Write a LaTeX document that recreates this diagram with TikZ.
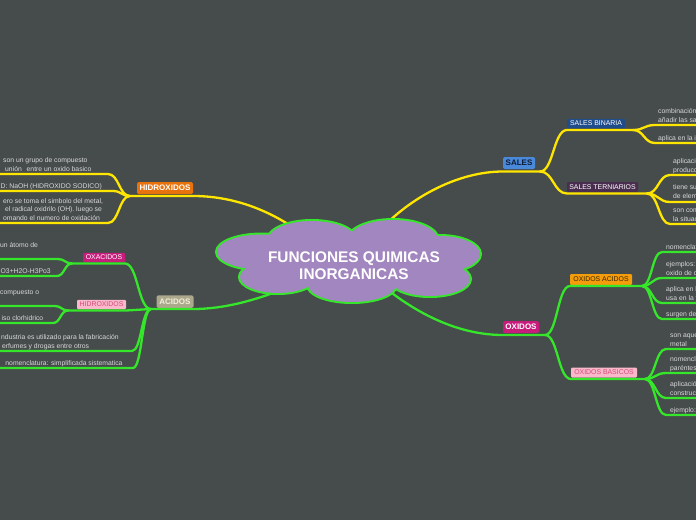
\documentclass[tikz,border=0pt]{standalone}
\usepackage{fontspec}
\setmainfont{Liberation Sans}
\definecolor{bg}{HTML}{464B4C}
\definecolor{ylw}{HTML}{FFE600}
\definecolor{grn}{HTML}{35E62A}
\definecolor{cloudfill}{HTML}{A286BF}
\definecolor{leaftxt}{HTML}{DADADA}
\definecolor{orng}{HTML}{E8720C}
\definecolor{acid}{HTML}{ACA88C}
\definecolor{acidtxt}{HTML}{F2F0DE}
\definecolor{salesbl}{HTML}{4A88DA}
\definecolor{salestxt}{HTML}{0E1C33}
\definecolor{mag}{HTML}{C81C7C}
\definecolor{pinkbg}{HTML}{F9B9CA}
\definecolor{pinktxt}{HTML}{D44A7E}
\definecolor{sbin}{HTML}{1F4C8A}
\definecolor{ster}{HTML}{4A2E50}
\definecolor{oacid}{HTML}{F59C0A}
\definecolor{oacidtxt}{HTML}{3A2600}
\begin{document}
\begin{tikzpicture}[x=1pt,y=-1pt,
  ybr/.style={draw=ylw,line width=2.3pt,line cap=round,line join=round},
  gbr/.style={draw=grn,line width=2.3pt,line cap=round,line join=round},
  mainbox/.style={rounded corners=1.5pt,inner sep=0pt,font=\fontsize{8}{9}\selectfont\bfseries},
  subbox/.style={rounded corners=1.2pt,inner sep=0pt,font=\fontsize{6.9}{8}\selectfont},
  leaf/.style={inner sep=0pt,align=left,text=leaftxt,font=\fontsize{6.8}{8.5}\selectfont},
  lobe/.style={line width=4pt,draw=grn}]

\path[use as bounding box] (0,0) rectangle (696,520);
\fill[bg] (0,0) rectangle (696,520);
\clip (0,0) rectangle (696,520);

% ---------- branch boxes ----------
\node[mainbox,fill=orng,text=white,minimum width=56pt,minimum height=12pt] (hid) at (165,188) {HIDROXIDOS};
\node[mainbox,fill=acid,text=acidtxt,minimum width=37pt,minimum height=12.5pt] (aci) at (175,301.5) {ACIDOS};
\node[mainbox,fill=salesbl,text=salestxt,minimum width=32pt,minimum height=12pt] (sal) at (519,163) {SALES};
\node[mainbox,fill=mag,text=white,minimum width=36pt,minimum height=12pt] (oxi) at (521,327) {OXIDOS};
\node[subbox,fill=mag,text=white,minimum width=42pt,minimum height=9.5pt] (oxa) at (104,257.5) {OXACIDOS};
\node[subbox,fill=pinkbg,text=pinktxt,minimum width=49pt,minimum height=9.5pt] (hia) at (101.5,304.5) {HIDROXIDOS};
\node[subbox,fill=sbin,text=white,minimum width=58pt,minimum height=9.5pt] (sbn) at (596,123.5) {SALES BINARIA};
\node[subbox,fill=ster,text=white,minimum width=71pt,minimum height=10pt] (stn) at (602.5,187) {SALES TERNIARIOS};
\node[subbox,fill=oacid,text=oacidtxt,minimum width=62pt,minimum height=11pt] (oac) at (601,279.5) {OXIDOS ACIDOS};
\node[subbox,fill=pinkbg,text=pinktxt,minimum width=66pt,minimum height=10pt] (oba) at (604,372.5) {OXIDOS BASICOS};

% ---------- left leaves (as far as the picture prints them) ----------
\node[leaf,anchor=south west] (h1) at (3,174) {\strut son un grupo de compuesto\\\strut\hspace{2pt}unión\hspace{3pt} entre un oxido basico};
\node[leaf,anchor=south west] (h2) at (0.5,191) {\strut D: NaOH (HIDROXIDO SODICO)};
\node[leaf,anchor=south west] (h3) at (3,223) {\strut ero se toma el simbolo del metal,\\\strut\hspace{2pt}el radical oxidrilo (OH). luego se\\\strut omando el numero de oxidación};
\node[leaf,anchor=south west] (o1) at (0,250.5) {\strut un átomo de};
\node[leaf,anchor=south west] (o2) at (0.5,276) {\strut O3+H2O-H3Po3};
\node[leaf,anchor=south west] (a1) at (0,297.5) {\strut compuesto o};
\node[leaf,anchor=south west] (a2) at (1.5,323) {\strut iso clorhidrico};
\node[leaf,anchor=south west] (a3) at (1,351) {\strut ndustria es utilizado para la fabricación\\\strut\hspace{1pt}erfumes y drogas entre otros};
\node[leaf,anchor=south east] (a4) at (122.7,368) {\strut nomenclatura: simplificada sistematica};

% ---------- right leaves ----------
\node[leaf,anchor=south west] (b1) at (658,125) {\strut combinación de un metal y un no metal\\\strut añadir las sales binarias};
\node[leaf,anchor=south west] (b2) at (658,143) {\strut aplica en la industria química};
\node[leaf,anchor=south west] (t1) at (673,175) {\strut aplicaciones en la\\\strut producción de fertilizantes};
\node[leaf,anchor=south west] (t2) at (673,201) {\strut tiene sustancias formadas\\\strut de elementos diferentes};
\node[leaf,anchor=south west] (t3) at (673,224) {\strut son compuestos ternarios\\\strut la situación del metal};
\node[leaf,anchor=south west] (k1) at (666,252) {\strut nomenclatura tradicional};
\node[leaf,anchor=south west] (k2) at (666,278) {\strut ejemplos: anhidrido\\\strut oxido de carbono};
\node[leaf,anchor=south west] (k3) at (666,303) {\strut aplica en la industria,\\\strut usa en la fabricación};
\node[leaf,anchor=south west] (k4) at (666,319) {\strut surgen de la unión};
\node[leaf,anchor=south west] (c1) at (670,349) {\strut son aquellos formados por oxígeno y un\\\strut metal};
\node[leaf,anchor=south west] (c2) at (670,373) {\strut nomenclatura: stock, con\\\strut paréntesis};
\node[leaf,anchor=south west] (c3) at (670,398) {\strut aplicación en la\\\strut construcción};
\node[leaf,anchor=south west] (c4) at (670,415) {\strut ejemplo: óxido de calcio};

% ---------- connector points ----------
\coordinate (hidJ) at (130,196);   \coordinate (hidE) at (193,196);
\coordinate (aciJ) at (151,309);   \coordinate (aciE) at (193,309);
\coordinate (salS) at (503,171.5); \coordinate (salJ) at (540,171.5);
\coordinate (oxiS) at (503,335);   \coordinate (oxiJ) at (545,335);
\coordinate (oxaJ) at (72,263.5);  \coordinate (oxaE) at (125,263.5);
\coordinate (hiaJ) at (68,310.5);  \coordinate (hiaE) at (126,310.5);
\coordinate (sbnS) at (567,130);   \coordinate (sbnE) at (633,130);
\coordinate (stnS) at (567,193.5); \coordinate (stnE) at (647,193.5);
\coordinate (oacS) at (570,286);   \coordinate (oacE) at (642,286);
\coordinate (obaS) at (571,379);   \coordinate (obaE) at (645,379);
\coordinate (cHid) at (300,232);   \coordinate (cAci) at (284,289);
\coordinate (cSal) at (384,226);   \coordinate (cOxi) at (388,290);

% ---------- connectors: HIDROXIDOS ----------
\draw[ybr] (-5,174) -- (108,174) .. controls +(11,0) and +(-11,0) .. (hidJ);
\draw[ybr] (-5,191) -- (113,191) .. controls +(8.5,0) and +(-8.5,0) .. (hidJ);
\draw[ybr] (-5,223) -- (108,223) .. controls +(11,0) and +(-11,0) .. (hidJ);
\draw[ybr] (hidJ) -- (hidE) .. controls (225,196) and (262,205) .. (cHid);

% ---------- connectors: ACIDOS ----------
\draw[gbr] (-5,259) -- (58,259) .. controls +(7,0) and +(-7,0) .. (oxaJ);
\draw[gbr] (-5,276) -- (57,276) .. controls +(7.5,0) and +(-7.5,0) .. (oxaJ);
\draw[gbr] (-5,306) -- (55,306) .. controls +(6.5,0) and +(-6.5,0) .. (hiaJ);
\draw[gbr] (-5,323) -- (53,323) .. controls +(7.5,0) and +(-7.5,0) .. (hiaJ);
\draw[gbr] (oxaJ) -- (oxaE) .. controls +(13,0) and +(-13,0) .. (aciJ);
\draw[gbr] (hiaJ) -- (hiaE) .. controls +(12,0) and +(-12,0) .. (aciJ);
\draw[gbr] (-5,351) -- (132,351) .. controls +(9.5,0) and +(-9.5,0) .. (aciJ);
\draw[gbr] (-5,368) -- (133,368) .. controls +(9,0) and +(-9,0) .. (aciJ);
\draw[gbr] (aciJ) -- (aciE) .. controls (225,309) and (255,300) .. (cAci);

% ---------- connectors: SALES ----------
\draw[ybr] (cSal) .. controls (415,195) and (460,171.5) .. (salS) -- (salJ);
\draw[ybr] (salJ) .. controls +(13.5,0) and +(-13.5,0) .. (sbnS) -- (sbnE);
\draw[ybr] (salJ) .. controls +(13.5,0) and +(-13.5,0) .. (stnS) -- (stnE);
\draw[ybr] (sbnE) .. controls +(11,0) and +(-11,0) .. (655,125) -- (720,125);
\draw[ybr] (sbnE) .. controls +(11,0) and +(-11,0) .. (655,143) -- (720,143);
\draw[ybr] (stnE) .. controls +(11.5,0) and +(-11.5,0) .. (670,175) -- (720,175);
\draw[ybr] (stnE) .. controls +(11.5,0) and +(-11.5,0) .. (670,202) -- (720,202);
\draw[ybr] (stnE) .. controls +(11.5,0) and +(-11.5,0) .. (670,224) -- (720,224);

% ---------- connectors: OXIDOS ----------
\draw[gbr] (cOxi) .. controls (420,315) and (460,335) .. (oxiS) -- (oxiJ);
\draw[gbr] (oxiJ) .. controls +(12.5,0) and +(-12.5,0) .. (oacS) -- (oacE);
\draw[gbr] (oxiJ) .. controls +(13,0) and +(-13,0) .. (obaS) -- (obaE);
\draw[gbr] (oacE) .. controls +(10,0) and +(-10,0) .. (662,252) -- (720,252);
\draw[gbr] (oacE) .. controls +(10,0) and +(-10,0) .. (662,278) -- (720,278);
\draw[gbr] (oacE) .. controls +(10,0) and +(-10,0) .. (662,303) -- (720,303);
\draw[gbr] (oacE) .. controls +(10,0) and +(-10,0) .. (662,319) -- (720,319);
\draw[gbr] (obaE) .. controls +(10.5,0) and +(-10.5,0) .. (666,349) -- (720,349);
\draw[gbr] (obaE) .. controls +(10.5,0) and +(-10.5,0) .. (666,373) -- (720,373);
\draw[gbr] (obaE) .. controls +(10.5,0) and +(-10.5,0) .. (666,398) -- (720,398);
\draw[gbr] (obaE) .. controls +(10.5,0) and +(-10.5,0) .. (666,415) -- (720,415);

% ---------- central cloud ----------
\foreach \cx/\cy/\rx/\ry in {262/252/45/17.5, 312/240/44/19, 393/240/45/20, 440/254/40/18,
  430/279/40/17, 352/285/44/17, 278/277/38/16, 350/262/90/25}
  \draw[lobe] (\cx,\cy) ellipse [x radius=\rx, y radius=\ry];
\foreach \cx/\cy/\rx/\ry in {262/252/45/17.5, 312/240/44/19, 393/240/45/20, 440/254/40/18,
  430/279/40/17, 352/285/44/17, 278/277/38/16, 350/262/90/25}
  \fill[cloudfill] (\cx,\cy) ellipse [x radius=\rx, y radius=\ry];
\node[font=\fontsize{15.4}{17.5}\selectfont\bfseries,text=white,align=center] (root) at (354,265.5) {FUNCIONES QUIMICAS\\INORGANICAS};
\end{tikzpicture}
\end{document}
